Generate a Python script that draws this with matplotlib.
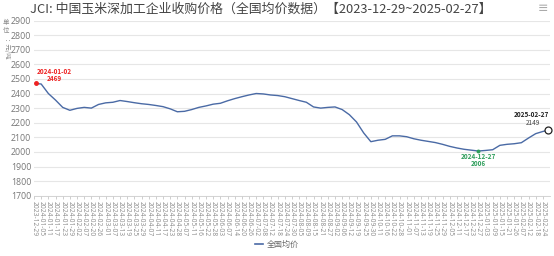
import matplotlib
matplotlib.use("Agg")
import matplotlib.pyplot as plt
from matplotlib.lines import Line2D

plt.rcParams['font.family'] = ['Noto Sans CJK SC', 'DejaVu Sans']

# category labels shown on the x axis (every 4th working day)
tick_labels = [
    '2023-12-29', '2024-01-05', '2024-01-11', '2024-01-17', '2024-01-23', '2024-01-29',
    '2024-02-02', '2024-02-07', '2024-02-20', '2024-02-26', '2024-03-01', '2024-03-07',
    '2024-03-13', '2024-03-19', '2024-03-25', '2024-03-29', '2024-04-07', '2024-04-11',
    '2024-04-17', '2024-04-23', '2024-04-28', '2024-05-07', '2024-05-11', '2024-05-16',
    '2024-05-22', '2024-05-28', '2024-06-03', '2024-06-07', '2024-06-14', '2024-06-20',
    '2024-06-26', '2024-07-02', '2024-07-08', '2024-07-12', '2024-07-18', '2024-07-24',
    '2024-07-30', '2024-08-05', '2024-08-09', '2024-08-15', '2024-08-21', '2024-08-27',
    '2024-09-02', '2024-09-06', '2024-09-12', '2024-09-19', '2024-09-25', '2024-09-30',
    '2024-10-11', '2024-10-16', '2024-10-22', '2024-10-28', '2024-11-01', '2024-11-07',
    '2024-11-13', '2024-11-19', '2024-11-25', '2024-11-29', '2024-12-05', '2024-12-11',
    '2024-12-17', '2024-12-23', '2024-12-27', '2025-01-03', '2025-01-09', '2025-01-15',
    '2025-01-21', '2025-01-26', '2025-02-07', '2025-02-12', '2025-02-18', '2025-02-24',
]
label_step = 4  # working days between two shown labels

# price on each labelled day (yuan/ton); 2023-12-29 has no value
label_prices = [
    None, 2465, 2400, 2355, 2305, 2285,
    2298, 2305, 2300, 2325, 2336, 2340,
    2352, 2345, 2337, 2330, 2325, 2318,
    2310, 2295, 2275, 2278, 2290, 2305,
    2315, 2327, 2333, 2350, 2365, 2378,
    2390, 2400, 2397, 2390, 2386, 2378,
    2365, 2352, 2340, 2308, 2300, 2305,
    2308, 2290, 2255, 2205, 2130, 2070,
    2080, 2086, 2110, 2110, 2104, 2090,
    2080, 2072, 2064, 2052, 2038, 2027,
    2018, 2012, 2006, 2010, 2015, 2045,
    2052, 2056, 2063, 2095, 2125, 2140,
]

# extra days that are not labelled: (working-day offset, date, price)
max_day = (1, '2024-01-02', 2469)
last_day = (287, '2025-02-27', 2149)
min_label = '2024-12-27'
min_price = 2006

# build series
xs, ys = [max_day[0]], [max_day[2]]
for i, p in enumerate(label_prices):
    if p is None:
        continue
    xs.append(i * label_step)
    ys.append(p)
xs.append(last_day[0])
ys.append(last_day[2])
order = sorted(range(len(xs)), key=lambda k: xs[k])
xs = [xs[k] for k in order]
ys = [ys[k] for k in order]

fig = plt.figure(figsize=(5.54, 2.56), dpi=100)
ax = fig.add_axes([0.0614, 0.2355, 0.9314, 0.6844])

line_color = '#4a6aa5'
ax.plot(xs, ys, color=line_color, linewidth=1.0, zorder=3)

ax.set_xlim(0, 288)
ax.set_ylim(1700, 2900)
ax.set_yticks(range(1700, 2901, 100))
ax.set_xticks([i * label_step for i in range(len(tick_labels))])
ax.set_xticklabels(tick_labels, rotation=-90, fontsize=4.8, color='#888888')
ax.tick_params(axis='x', length=2, width=0.5, color='#bbbbbb', pad=1.5)
ax.tick_params(axis='y', length=0, labelsize=6.3, labelcolor='#777777', pad=2)
for lbl in ax.get_yticklabels():
    lbl.set_fontfamily(['Open Sans', 'DejaVu Sans'])
for lbl in ax.get_xticklabels():
    lbl.set_fontfamily(['Open Sans', 'DejaVu Sans'])

ax.grid(axis='y', color='#e6e6e6', linewidth=0.8)
ax.set_axisbelow(True)
for s in ['top', 'right', 'left']:
    ax.spines[s].set_visible(False)
ax.spines['bottom'].set_color('#cccccc')
ax.spines['bottom'].set_linewidth(0.6)

# max annotation
ax.plot([max_day[0]], [max_day[2]], 'o', color='#ee2222', markersize=2.5, zorder=4)
ax.annotate(f'{max_day[1]}\n{max_day[2]}', (max_day[0], max_day[2]),
            xytext=(1, 1), textcoords='offset points', ha='left', va='bottom',
            fontsize=4.6, fontweight='bold', color='#ee2222', linespacing=1.05,
            multialignment='center')

# min annotation
min_x = tick_labels.index(min_label) * label_step
ax.plot([min_x], [min_price], 'o', color='#2e9e5b', markersize=1.8, zorder=4)
ax.annotate(f'{min_label}\n{min_price}', (min_x, min_price),
            xytext=(0, -1.5), textcoords='offset points', ha='center', va='top',
            fontsize=4.6, fontweight='bold', color='#2e9e5b', linespacing=1.05,
            multialignment='center')

# last value annotation
ax.plot([last_day[0]], [last_day[2]], 'o', markerfacecolor='white',
        markeredgecolor='#222222', markersize=5, markeredgewidth=0.9, zorder=5,
        clip_on=False)
ax.annotate(f'{last_day[1]}', (last_day[0], last_day[2]),
            xytext=(-12, 8.8), textcoords='offset points', ha='center', va='bottom',
            fontsize=4.6, fontweight='bold', color='#222222')
ax.annotate(f'{last_day[2]}', (last_day[0], last_day[2]),
            xytext=(-11, 2.3), textcoords='offset points', ha='center', va='bottom',
            fontsize=4.6, color='#444444')

# title, unit label, legend, menu icon
fig.text(0.47, 0.962, 'JCI: 中国玉米深加工企业收购价格（全国均价数据）【2023-12-29~2025-02-27】',
         ha='center', va='center', fontsize=9.3, color='#444444')
fig.text(0.011, 0.897, '单\n位', ha='center', va='center', fontsize=4.6,
         color='#888888', linespacing=1.0)
fig.text(0.011, 0.805, '：元/吨', ha='center', va='center', fontsize=4.6,
         color='#888888', rotation=-90)
fig.text(0.99, 0.965, '≡', ha='right', va='center', fontsize=9, color='#aaaaaa',
         family=['DejaVu Sans'])

handle = Line2D([], [], color=line_color, linewidth=1.2)
fig.legend([handle], ['全国均价'], loc='center', bbox_to_anchor=(0.5, 0.045),
           frameon=False, fontsize=5.8, handlelength=1.0, handletextpad=0.4,
           labelcolor='#666666')

fig.savefig('out.png', dpi=100)
